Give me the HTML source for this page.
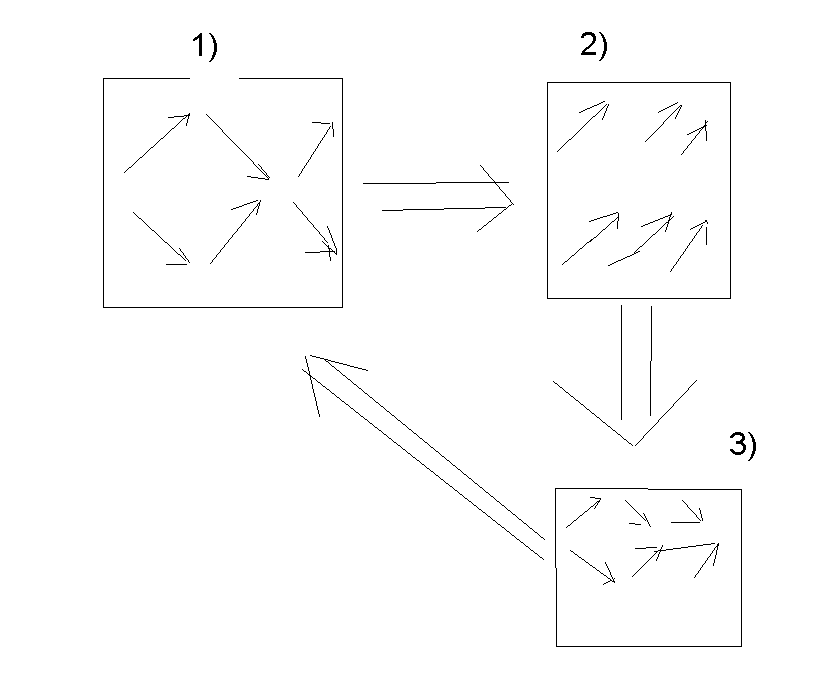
<!DOCTYPE html>
<html><head><meta charset="utf-8"><style>
html,body{margin:0;padding:0;background:#fff;}
body{width:840px;height:673px;overflow:hidden;}
svg{display:block;}
text{font-family:"Liberation Sans",sans-serif;font-size:32px;fill:#000;}
</style></head><body>
<svg width="840" height="673" viewBox="0 0 840 673">
<rect width="840" height="673" fill="#fff"/>
<g fill="#000" shape-rendering="crispEdges">
<path d="M103 78h87v1h-87zM239 78h104v1h-104zM103 79h1v1h-1zM342 79h1v1h-1zM103 80h1v1h-1zM342 80h1v1h-1zM103 81h1v1h-1zM342 81h1v1h-1zM103 82h1v1h-1zM342 82h1v1h-1zM547 82h184v1h-184zM103 83h1v1h-1zM342 83h1v1h-1zM547 83h1v1h-1zM730 83h1v1h-1zM103 84h1v1h-1zM342 84h1v1h-1zM547 84h1v1h-1zM730 84h1v1h-1zM103 85h1v1h-1zM342 85h1v1h-1zM547 85h1v1h-1zM730 85h1v1h-1zM103 86h1v1h-1zM342 86h1v1h-1zM547 86h1v1h-1zM730 86h1v1h-1zM103 87h1v1h-1zM342 87h1v1h-1zM547 87h1v1h-1zM730 87h1v1h-1zM103 88h1v1h-1zM342 88h1v1h-1zM547 88h1v1h-1zM730 88h1v1h-1zM103 89h1v1h-1zM342 89h1v1h-1zM547 89h1v1h-1zM730 89h1v1h-1zM103 90h1v1h-1zM342 90h1v1h-1zM547 90h1v1h-1zM730 90h1v1h-1zM103 91h1v1h-1zM342 91h1v1h-1zM547 91h1v1h-1zM730 91h1v1h-1zM103 92h1v1h-1zM342 92h1v1h-1zM547 92h1v1h-1zM730 92h1v1h-1zM103 93h1v1h-1zM342 93h1v1h-1zM547 93h1v1h-1zM730 93h1v1h-1zM103 94h1v1h-1zM342 94h1v1h-1zM547 94h1v1h-1zM730 94h1v1h-1zM103 95h1v1h-1zM342 95h1v1h-1zM547 95h1v1h-1zM730 95h1v1h-1zM103 96h1v1h-1zM342 96h1v1h-1zM547 96h1v1h-1zM730 96h1v1h-1zM103 97h1v1h-1zM342 97h1v1h-1zM547 97h1v1h-1zM730 97h1v1h-1zM103 98h1v1h-1zM342 98h1v1h-1zM547 98h1v1h-1zM730 98h1v1h-1zM103 99h1v1h-1zM342 99h1v1h-1zM547 99h1v1h-1zM730 99h1v1h-1zM103 100h1v1h-1zM342 100h1v1h-1zM547 100h1v1h-1zM730 100h1v1h-1zM103 101h1v1h-1zM342 101h1v1h-1zM547 101h1v1h-1zM603 101h2v1h-2zM730 101h1v1h-1zM103 102h1v1h-1zM342 102h1v1h-1zM547 102h1v1h-1zM601 102h2v1h-2zM677 102h1v1h-1zM730 102h1v1h-1zM103 103h1v1h-1zM342 103h1v1h-1zM547 103h1v1h-1zM599 103h2v1h-2zM675 103h2v1h-2zM730 103h1v1h-1zM103 104h1v1h-1zM342 104h1v1h-1zM547 104h1v1h-1zM597 104h2v1h-2zM606 104h1v1h-1zM608 104h1v1h-1zM673 104h2v1h-2zM730 104h1v1h-1zM103 105h1v1h-1zM342 105h1v1h-1zM547 105h1v1h-1zM594 105h3v1h-3zM605 105h1v1h-1zM608 105h1v1h-1zM671 105h2v1h-2zM680 105h2v1h-2zM730 105h1v1h-1zM103 106h1v1h-1zM342 106h1v1h-1zM547 106h1v1h-1zM592 106h2v1h-2zM604 106h1v1h-1zM607 106h1v1h-1zM669 106h2v1h-2zM679 106h1v1h-1zM681 106h1v1h-1zM730 106h1v1h-1zM103 107h1v1h-1zM342 107h1v1h-1zM547 107h1v1h-1zM590 107h2v1h-2zM603 107h1v1h-1zM607 107h1v1h-1zM667 107h2v1h-2zM678 107h1v1h-1zM680 107h1v1h-1zM730 107h1v1h-1zM103 108h1v1h-1zM342 108h1v1h-1zM547 108h1v1h-1zM587 108h3v1h-3zM602 108h1v1h-1zM606 108h1v1h-1zM665 108h2v1h-2zM677 108h1v1h-1zM680 108h1v1h-1zM730 108h1v1h-1zM103 109h1v1h-1zM342 109h1v1h-1zM547 109h1v1h-1zM585 109h2v1h-2zM601 109h1v1h-1zM606 109h1v1h-1zM663 109h2v1h-2zM676 109h1v1h-1zM679 109h1v1h-1zM730 109h1v1h-1zM103 110h1v1h-1zM342 110h1v1h-1zM547 110h1v1h-1zM583 110h2v1h-2zM600 110h1v1h-1zM606 110h1v1h-1zM661 110h2v1h-2zM675 110h1v1h-1zM679 110h1v1h-1zM730 110h1v1h-1zM103 111h1v1h-1zM342 111h1v1h-1zM547 111h1v1h-1zM581 111h2v1h-2zM599 111h1v1h-1zM605 111h1v1h-1zM659 111h2v1h-2zM674 111h1v1h-1zM678 111h1v1h-1zM730 111h1v1h-1zM103 112h1v1h-1zM342 112h1v1h-1zM547 112h1v1h-1zM579 112h2v1h-2zM598 112h1v1h-1zM605 112h1v1h-1zM658 112h1v1h-1zM673 112h1v1h-1zM678 112h1v1h-1zM730 112h1v1h-1zM103 113h1v1h-1zM189 113h1v1h-1zM342 113h1v1h-1zM547 113h1v1h-1zM597 113h1v1h-1zM604 113h1v1h-1zM672 113h1v1h-1zM677 113h1v1h-1zM730 113h1v1h-1zM103 114h1v1h-1zM188 114h2v1h-2zM206 114h1v1h-1zM342 114h1v1h-1zM547 114h1v1h-1zM596 114h1v1h-1zM604 114h1v1h-1zM671 114h1v1h-1zM677 114h1v1h-1zM730 114h1v1h-1zM103 115h1v1h-1zM184 115h6v1h-6zM207 115h1v1h-1zM342 115h1v1h-1zM547 115h1v1h-1zM595 115h1v1h-1zM604 115h1v1h-1zM670 115h1v1h-1zM676 115h1v1h-1zM730 115h1v1h-1zM103 116h1v1h-1zM174 116h10v1h-10zM186 116h1v1h-1zM188 116h1v1h-1zM208 116h1v1h-1zM342 116h1v1h-1zM547 116h1v1h-1zM593 116h2v1h-2zM603 116h1v1h-1zM669 116h1v1h-1zM676 116h1v1h-1zM730 116h1v1h-1zM103 117h1v1h-1zM168 117h6v1h-6zM185 117h1v1h-1zM188 117h1v1h-1zM209 117h1v1h-1zM342 117h1v1h-1zM547 117h1v1h-1zM592 117h1v1h-1zM603 117h1v1h-1zM668 117h1v1h-1zM675 117h1v1h-1zM730 117h1v1h-1zM103 118h1v1h-1zM183 118h2v1h-2zM188 118h1v1h-1zM210 118h1v1h-1zM342 118h1v1h-1zM547 118h1v1h-1zM591 118h1v1h-1zM602 118h1v1h-1zM667 118h1v1h-1zM675 118h1v1h-1zM730 118h1v1h-1zM103 119h1v1h-1zM182 119h1v1h-1zM187 119h1v1h-1zM211 119h1v1h-1zM342 119h1v1h-1zM547 119h1v1h-1zM590 119h1v1h-1zM602 119h1v1h-1zM666 119h1v1h-1zM730 119h1v1h-1zM103 120h1v1h-1zM181 120h1v1h-1zM187 120h1v1h-1zM212 120h1v1h-1zM342 120h1v1h-1zM547 120h1v1h-1zM589 120h1v1h-1zM665 120h1v1h-1zM705 120h1v1h-1zM730 120h1v1h-1zM103 121h1v1h-1zM180 121h1v1h-1zM187 121h1v1h-1zM213 121h1v1h-1zM342 121h1v1h-1zM547 121h1v1h-1zM588 121h1v1h-1zM664 121h1v1h-1zM705 121h1v1h-1zM707 121h1v1h-1zM730 121h1v1h-1zM103 122h1v1h-1zM179 122h1v1h-1zM187 122h1v1h-1zM214 122h1v1h-1zM312 122h9v1h-9zM332 122h1v1h-1zM342 122h1v1h-1zM547 122h1v1h-1zM587 122h1v1h-1zM663 122h1v1h-1zM705 122h2v1h-2zM730 122h1v1h-1zM103 123h1v1h-1zM178 123h1v1h-1zM186 123h1v1h-1zM215 123h1v1h-1zM321 123h9v1h-9zM332 123h1v1h-1zM342 123h1v1h-1zM547 123h1v1h-1zM586 123h1v1h-1zM663 123h1v1h-1zM705 123h1v1h-1zM730 123h1v1h-1zM103 124h1v1h-1zM177 124h1v1h-1zM186 124h1v1h-1zM216 124h1v1h-1zM332 124h1v1h-1zM342 124h1v1h-1zM547 124h1v1h-1zM585 124h1v1h-1zM662 124h1v1h-1zM705 124h1v1h-1zM730 124h1v1h-1zM103 125h1v1h-1zM176 125h1v1h-1zM186 125h1v1h-1zM217 125h1v1h-1zM332 125h1v1h-1zM342 125h1v1h-1zM547 125h1v1h-1zM584 125h1v1h-1zM661 125h1v1h-1zM704 125h3v1h-3zM730 125h1v1h-1zM103 126h1v1h-1zM175 126h1v1h-1zM218 126h1v1h-1zM330 126h1v1h-1zM332 126h1v1h-1zM342 126h1v1h-1zM547 126h1v1h-1zM583 126h1v1h-1zM660 126h1v1h-1zM703 126h3v1h-3zM730 126h1v1h-1zM103 127h1v1h-1zM174 127h1v1h-1zM219 127h1v1h-1zM329 127h1v1h-1zM332 127h1v1h-1zM342 127h1v1h-1zM547 127h1v1h-1zM582 127h1v1h-1zM659 127h1v1h-1zM701 127h3v1h-3zM705 127h1v1h-1zM730 127h1v1h-1zM103 128h1v1h-1zM172 128h2v1h-2zM220 128h1v1h-1zM329 128h1v1h-1zM332 128h1v1h-1zM342 128h1v1h-1zM547 128h1v1h-1zM581 128h1v1h-1zM658 128h1v1h-1zM699 128h2v1h-2zM702 128h1v1h-1zM705 128h1v1h-1zM730 128h1v1h-1zM103 129h1v1h-1zM171 129h1v1h-1zM221 129h1v1h-1zM328 129h1v1h-1zM333 129h1v1h-1zM342 129h1v1h-1zM547 129h1v1h-1zM580 129h1v1h-1zM657 129h1v1h-1zM697 129h2v1h-2zM701 129h1v1h-1zM705 129h1v1h-1zM730 129h1v1h-1zM103 130h1v1h-1zM170 130h1v1h-1zM222 130h1v1h-1zM327 130h1v1h-1zM333 130h1v1h-1zM342 130h1v1h-1zM547 130h1v1h-1zM579 130h1v1h-1zM656 130h1v1h-1zM695 130h2v1h-2zM700 130h1v1h-1zM705 130h1v1h-1zM730 130h1v1h-1zM103 131h1v1h-1zM169 131h1v1h-1zM222 131h1v1h-1zM327 131h1v1h-1zM333 131h1v1h-1zM342 131h1v1h-1zM547 131h1v1h-1zM578 131h1v1h-1zM655 131h1v1h-1zM693 131h2v1h-2zM699 131h1v1h-1zM706 131h1v1h-1zM730 131h1v1h-1zM103 132h1v1h-1zM168 132h1v1h-1zM223 132h1v1h-1zM326 132h1v1h-1zM333 132h1v1h-1zM342 132h1v1h-1zM547 132h1v1h-1zM577 132h1v1h-1zM654 132h1v1h-1zM691 132h2v1h-2zM699 132h1v1h-1zM706 132h1v1h-1zM730 132h1v1h-1zM103 133h1v1h-1zM167 133h1v1h-1zM224 133h1v1h-1zM326 133h1v1h-1zM333 133h1v1h-1zM342 133h1v1h-1zM547 133h1v1h-1zM576 133h1v1h-1zM653 133h1v1h-1zM689 133h2v1h-2zM698 133h1v1h-1zM706 133h1v1h-1zM730 133h1v1h-1zM103 134h1v1h-1zM166 134h1v1h-1zM225 134h1v1h-1zM325 134h1v1h-1zM333 134h1v1h-1zM342 134h1v1h-1zM547 134h1v1h-1zM575 134h1v1h-1zM652 134h1v1h-1zM687 134h2v1h-2zM697 134h1v1h-1zM706 134h1v1h-1zM730 134h1v1h-1zM103 135h1v1h-1zM165 135h1v1h-1zM226 135h1v1h-1zM324 135h1v1h-1zM333 135h1v1h-1zM342 135h1v1h-1zM547 135h1v1h-1zM574 135h1v1h-1zM651 135h1v1h-1zM696 135h1v1h-1zM706 135h1v1h-1zM730 135h1v1h-1zM103 136h1v1h-1zM164 136h1v1h-1zM227 136h1v1h-1zM324 136h1v1h-1zM333 136h1v1h-1zM342 136h1v1h-1zM547 136h1v1h-1zM573 136h1v1h-1zM650 136h1v1h-1zM695 136h1v1h-1zM706 136h1v1h-1zM730 136h1v1h-1zM103 137h1v1h-1zM163 137h1v1h-1zM228 137h1v1h-1zM323 137h1v1h-1zM342 137h1v1h-1zM547 137h1v1h-1zM572 137h1v1h-1zM649 137h1v1h-1zM695 137h1v1h-1zM706 137h1v1h-1zM730 137h1v1h-1zM103 138h1v1h-1zM161 138h2v1h-2zM229 138h1v1h-1zM322 138h1v1h-1zM342 138h1v1h-1zM547 138h1v1h-1zM571 138h1v1h-1zM648 138h1v1h-1zM694 138h1v1h-1zM706 138h1v1h-1zM730 138h1v1h-1zM103 139h1v1h-1zM160 139h1v1h-1zM230 139h1v1h-1zM322 139h1v1h-1zM342 139h1v1h-1zM547 139h1v1h-1zM569 139h2v1h-2zM647 139h1v1h-1zM693 139h1v1h-1zM706 139h1v1h-1zM730 139h1v1h-1zM103 140h1v1h-1zM159 140h1v1h-1zM231 140h1v1h-1zM321 140h1v1h-1zM342 140h1v1h-1zM547 140h1v1h-1zM568 140h1v1h-1zM646 140h1v1h-1zM692 140h1v1h-1zM706 140h1v1h-1zM730 140h1v1h-1zM103 141h1v1h-1zM158 141h1v1h-1zM232 141h1v1h-1zM320 141h1v1h-1zM342 141h1v1h-1zM547 141h1v1h-1zM567 141h1v1h-1zM645 141h1v1h-1zM691 141h1v1h-1zM730 141h1v1h-1zM103 142h1v1h-1zM157 142h1v1h-1zM233 142h1v1h-1zM320 142h1v1h-1zM342 142h1v1h-1zM547 142h1v1h-1zM566 142h1v1h-1zM691 142h1v1h-1zM730 142h1v1h-1zM103 143h1v1h-1zM156 143h1v1h-1zM234 143h1v1h-1zM319 143h1v1h-1zM342 143h1v1h-1zM547 143h1v1h-1zM565 143h1v1h-1zM690 143h1v1h-1zM730 143h1v1h-1zM103 144h1v1h-1zM155 144h1v1h-1zM235 144h1v1h-1zM318 144h1v1h-1zM342 144h1v1h-1zM547 144h1v1h-1zM564 144h1v1h-1zM689 144h1v1h-1zM730 144h1v1h-1zM103 145h1v1h-1zM154 145h1v1h-1zM236 145h1v1h-1zM318 145h1v1h-1zM342 145h1v1h-1zM547 145h1v1h-1zM563 145h1v1h-1zM688 145h1v1h-1zM730 145h1v1h-1zM103 146h1v1h-1zM153 146h1v1h-1zM237 146h1v1h-1zM317 146h1v1h-1zM342 146h1v1h-1zM547 146h1v1h-1zM562 146h1v1h-1zM687 146h1v1h-1zM730 146h1v1h-1zM103 147h1v1h-1zM151 147h2v1h-2zM238 147h1v1h-1zM317 147h1v1h-1zM342 147h1v1h-1zM547 147h1v1h-1zM561 147h1v1h-1zM687 147h1v1h-1zM730 147h1v1h-1zM103 148h1v1h-1zM150 148h1v1h-1zM239 148h1v1h-1zM316 148h1v1h-1zM342 148h1v1h-1zM547 148h1v1h-1zM560 148h1v1h-1zM686 148h1v1h-1zM730 148h1v1h-1zM103 149h1v1h-1zM149 149h1v1h-1zM240 149h1v1h-1zM315 149h1v1h-1zM342 149h1v1h-1zM547 149h1v1h-1zM559 149h1v1h-1zM685 149h1v1h-1zM730 149h1v1h-1zM103 150h1v1h-1zM148 150h1v1h-1zM241 150h1v1h-1zM315 150h1v1h-1zM342 150h1v1h-1zM547 150h1v1h-1zM558 150h1v1h-1zM684 150h1v1h-1zM730 150h1v1h-1zM103 151h1v1h-1zM147 151h1v1h-1zM242 151h1v1h-1zM314 151h1v1h-1zM342 151h1v1h-1zM547 151h1v1h-1zM557 151h1v1h-1zM683 151h1v1h-1zM730 151h1v1h-1zM103 152h1v1h-1zM146 152h1v1h-1zM243 152h1v1h-1zM313 152h1v1h-1zM342 152h1v1h-1zM547 152h1v1h-1zM683 152h1v1h-1zM730 152h1v1h-1zM103 153h1v1h-1zM145 153h1v1h-1zM244 153h1v1h-1zM313 153h1v1h-1zM342 153h1v1h-1zM547 153h1v1h-1zM682 153h1v1h-1zM730 153h1v1h-1zM103 154h1v1h-1zM144 154h1v1h-1zM245 154h1v1h-1zM312 154h1v1h-1zM342 154h1v1h-1zM547 154h1v1h-1zM681 154h1v1h-1zM730 154h1v1h-1zM103 155h1v1h-1zM143 155h1v1h-1zM246 155h1v1h-1zM311 155h1v1h-1zM342 155h1v1h-1zM547 155h1v1h-1zM730 155h1v1h-1zM103 156h1v1h-1zM142 156h1v1h-1zM247 156h1v1h-1zM311 156h1v1h-1zM342 156h1v1h-1zM547 156h1v1h-1zM730 156h1v1h-1zM103 157h1v1h-1zM140 157h2v1h-2zM248 157h1v1h-1zM310 157h1v1h-1zM342 157h1v1h-1zM547 157h1v1h-1zM730 157h1v1h-1zM103 158h1v1h-1zM139 158h1v1h-1zM249 158h1v1h-1zM310 158h1v1h-1zM342 158h1v1h-1zM547 158h1v1h-1zM730 158h1v1h-1zM103 159h1v1h-1zM138 159h1v1h-1zM250 159h1v1h-1zM309 159h1v1h-1zM342 159h1v1h-1zM547 159h1v1h-1zM730 159h1v1h-1zM103 160h1v1h-1zM137 160h1v1h-1zM251 160h1v1h-1zM308 160h1v1h-1zM342 160h1v1h-1zM547 160h1v1h-1zM730 160h1v1h-1zM103 161h1v1h-1zM136 161h1v1h-1zM252 161h1v1h-1zM308 161h1v1h-1zM342 161h1v1h-1zM547 161h1v1h-1zM730 161h1v1h-1zM103 162h1v1h-1zM135 162h1v1h-1zM253 162h1v1h-1zM307 162h1v1h-1zM342 162h1v1h-1zM547 162h1v1h-1zM730 162h1v1h-1zM103 163h1v1h-1zM134 163h1v1h-1zM253 163h1v1h-1zM306 163h1v1h-1zM342 163h1v1h-1zM547 163h1v1h-1zM730 163h1v1h-1zM103 164h1v1h-1zM133 164h1v1h-1zM254 164h1v1h-1zM258 164h1v1h-1zM306 164h1v1h-1zM342 164h1v1h-1zM547 164h1v1h-1zM730 164h1v1h-1zM103 165h1v1h-1zM132 165h1v1h-1zM255 165h1v1h-1zM259 165h1v1h-1zM305 165h1v1h-1zM342 165h1v1h-1zM480 165h1v1h-1zM547 165h1v1h-1zM730 165h1v1h-1zM103 166h1v1h-1zM131 166h1v1h-1zM256 166h1v1h-1zM260 166h1v1h-1zM304 166h1v1h-1zM342 166h1v1h-1zM481 166h1v1h-1zM547 166h1v1h-1zM730 166h1v1h-1zM103 167h1v1h-1zM129 167h2v1h-2zM257 167h1v1h-1zM261 167h1v1h-1zM304 167h1v1h-1zM342 167h1v1h-1zM482 167h1v1h-1zM547 167h1v1h-1zM730 167h1v1h-1zM103 168h1v1h-1zM128 168h1v1h-1zM258 168h1v1h-1zM261 168h1v1h-1zM303 168h1v1h-1zM342 168h1v1h-1zM483 168h1v1h-1zM547 168h1v1h-1zM730 168h1v1h-1zM103 169h1v1h-1zM127 169h1v1h-1zM259 169h1v1h-1zM262 169h1v1h-1zM302 169h1v1h-1zM342 169h1v1h-1zM483 169h1v1h-1zM547 169h1v1h-1zM730 169h1v1h-1zM103 170h1v1h-1zM126 170h1v1h-1zM260 170h1v1h-1zM263 170h1v1h-1zM302 170h1v1h-1zM342 170h1v1h-1zM484 170h1v1h-1zM547 170h1v1h-1zM730 170h1v1h-1zM103 171h1v1h-1zM125 171h1v1h-1zM261 171h1v1h-1zM264 171h1v1h-1zM301 171h1v1h-1zM342 171h1v1h-1zM485 171h1v1h-1zM547 171h1v1h-1zM730 171h1v1h-1zM103 172h1v1h-1zM124 172h1v1h-1zM262 172h1v1h-1zM265 172h1v1h-1zM301 172h1v1h-1zM342 172h1v1h-1zM486 172h1v1h-1zM547 172h1v1h-1zM730 172h1v1h-1zM103 173h1v1h-1zM263 173h1v1h-1zM266 173h1v1h-1zM300 173h1v1h-1zM342 173h1v1h-1zM487 173h1v1h-1zM547 173h1v1h-1zM730 173h1v1h-1zM103 174h1v1h-1zM264 174h1v1h-1zM266 174h1v1h-1zM299 174h1v1h-1zM342 174h1v1h-1zM488 174h1v1h-1zM547 174h1v1h-1zM730 174h1v1h-1zM103 175h1v1h-1zM265 175h1v1h-1zM267 175h1v1h-1zM299 175h1v1h-1zM342 175h1v1h-1zM488 175h1v1h-1zM547 175h1v1h-1zM730 175h1v1h-1zM103 176h1v1h-1zM247 176h4v1h-4zM266 176h1v1h-1zM268 176h1v1h-1zM298 176h1v1h-1zM342 176h1v1h-1zM489 176h1v1h-1zM547 176h1v1h-1zM730 176h1v1h-1zM103 177h1v1h-1zM251 177h7v1h-7zM267 177h1v1h-1zM269 177h1v1h-1zM342 177h1v1h-1zM490 177h1v1h-1zM547 177h1v1h-1zM730 177h1v1h-1zM103 178h1v1h-1zM258 178h7v1h-7zM268 178h1v1h-1zM342 178h1v1h-1zM491 178h1v1h-1zM547 178h1v1h-1zM730 178h1v1h-1zM103 179h1v1h-1zM265 179h4v1h-4zM342 179h1v1h-1zM492 179h1v1h-1zM547 179h1v1h-1zM730 179h1v1h-1zM103 180h1v1h-1zM342 180h1v1h-1zM493 180h1v1h-1zM547 180h1v1h-1zM730 180h1v1h-1zM103 181h1v1h-1zM342 181h1v1h-1zM494 181h1v1h-1zM547 181h1v1h-1zM730 181h1v1h-1zM103 182h1v1h-1zM342 182h1v1h-1zM436 182h73v1h-73zM547 182h1v1h-1zM730 182h1v1h-1zM103 183h1v1h-1zM342 183h1v1h-1zM363 183h73v1h-73zM495 183h1v1h-1zM547 183h1v1h-1zM730 183h1v1h-1zM103 184h1v1h-1zM342 184h1v1h-1zM496 184h1v1h-1zM547 184h1v1h-1zM730 184h1v1h-1zM103 185h1v1h-1zM342 185h1v1h-1zM497 185h1v1h-1zM547 185h1v1h-1zM730 185h1v1h-1zM103 186h1v1h-1zM342 186h1v1h-1zM498 186h1v1h-1zM547 186h1v1h-1zM730 186h1v1h-1zM103 187h1v1h-1zM342 187h1v1h-1zM499 187h1v1h-1zM547 187h1v1h-1zM730 187h1v1h-1zM103 188h1v1h-1zM342 188h1v1h-1zM499 188h1v1h-1zM547 188h1v1h-1zM730 188h1v1h-1zM103 189h1v1h-1zM342 189h1v1h-1zM500 189h1v1h-1zM547 189h1v1h-1zM730 189h1v1h-1zM103 190h1v1h-1zM342 190h1v1h-1zM501 190h1v1h-1zM547 190h1v1h-1zM730 190h1v1h-1zM103 191h1v1h-1zM342 191h1v1h-1zM502 191h1v1h-1zM547 191h1v1h-1zM730 191h1v1h-1zM103 192h1v1h-1zM342 192h1v1h-1zM503 192h1v1h-1zM547 192h1v1h-1zM730 192h1v1h-1zM103 193h1v1h-1zM342 193h1v1h-1zM504 193h1v1h-1zM547 193h1v1h-1zM730 193h1v1h-1zM103 194h1v1h-1zM342 194h1v1h-1zM505 194h1v1h-1zM547 194h1v1h-1zM730 194h1v1h-1zM103 195h1v1h-1zM342 195h1v1h-1zM505 195h1v1h-1zM547 195h1v1h-1zM730 195h1v1h-1zM103 196h1v1h-1zM342 196h1v1h-1zM506 196h1v1h-1zM547 196h1v1h-1zM730 196h1v1h-1zM103 197h1v1h-1zM342 197h1v1h-1zM507 197h1v1h-1zM547 197h1v1h-1zM730 197h1v1h-1zM103 198h1v1h-1zM342 198h1v1h-1zM508 198h1v1h-1zM547 198h1v1h-1zM730 198h1v1h-1zM103 199h1v1h-1zM342 199h1v1h-1zM509 199h1v1h-1zM547 199h1v1h-1zM730 199h1v1h-1zM103 200h1v1h-1zM256 200h2v1h-2zM260 200h1v1h-1zM342 200h1v1h-1zM510 200h1v1h-1zM547 200h1v1h-1zM730 200h1v1h-1zM103 201h1v1h-1zM253 201h3v1h-3zM260 201h1v1h-1zM342 201h1v1h-1zM510 201h1v1h-1zM547 201h1v1h-1zM730 201h1v1h-1zM103 202h1v1h-1zM250 202h3v1h-3zM259 202h1v1h-1zM293 202h1v1h-1zM342 202h1v1h-1zM511 202h1v1h-1zM547 202h1v1h-1zM730 202h1v1h-1zM103 203h1v1h-1zM247 203h3v1h-3zM258 203h2v1h-2zM294 203h1v1h-1zM342 203h1v1h-1zM512 203h1v1h-1zM547 203h1v1h-1zM730 203h1v1h-1zM103 204h1v1h-1zM244 204h3v1h-3zM257 204h1v1h-1zM259 204h1v1h-1zM295 204h1v1h-1zM342 204h1v1h-1zM511 204h1v1h-1zM513 204h1v1h-1zM547 204h1v1h-1zM730 204h1v1h-1zM103 205h1v1h-1zM242 205h2v1h-2zM257 205h1v1h-1zM259 205h1v1h-1zM296 205h1v1h-1zM342 205h1v1h-1zM509 205h2v1h-2zM547 205h1v1h-1zM730 205h1v1h-1zM103 206h1v1h-1zM239 206h3v1h-3zM256 206h1v1h-1zM258 206h1v1h-1zM296 206h1v1h-1zM342 206h1v1h-1zM508 206h1v1h-1zM547 206h1v1h-1zM730 206h1v1h-1zM103 207h1v1h-1zM236 207h3v1h-3zM255 207h1v1h-1zM258 207h1v1h-1zM297 207h1v1h-1zM342 207h1v1h-1zM485 207h21v1h-21zM507 207h1v1h-1zM547 207h1v1h-1zM730 207h1v1h-1zM103 208h1v1h-1zM233 208h3v1h-3zM254 208h1v1h-1zM258 208h1v1h-1zM298 208h1v1h-1zM342 208h1v1h-1zM444 208h41v1h-41zM506 208h1v1h-1zM547 208h1v1h-1zM730 208h1v1h-1zM103 209h1v1h-1zM231 209h2v1h-2zM253 209h1v1h-1zM257 209h1v1h-1zM299 209h1v1h-1zM342 209h1v1h-1zM403 209h41v1h-41zM504 209h2v1h-2zM547 209h1v1h-1zM730 209h1v1h-1zM103 210h1v1h-1zM253 210h1v1h-1zM257 210h1v1h-1zM300 210h1v1h-1zM342 210h1v1h-1zM382 210h21v1h-21zM503 210h1v1h-1zM547 210h1v1h-1zM730 210h1v1h-1zM103 211h1v1h-1zM252 211h1v1h-1zM257 211h1v1h-1zM301 211h1v1h-1zM342 211h1v1h-1zM502 211h1v1h-1zM547 211h1v1h-1zM730 211h1v1h-1zM103 212h1v1h-1zM133 212h1v1h-1zM251 212h1v1h-1zM257 212h1v1h-1zM302 212h1v1h-1zM342 212h1v1h-1zM501 212h1v1h-1zM547 212h1v1h-1zM616 212h2v1h-2zM671 212h1v1h-1zM730 212h1v1h-1zM103 213h1v1h-1zM134 213h1v1h-1zM250 213h1v1h-1zM256 213h1v1h-1zM302 213h1v1h-1zM342 213h1v1h-1zM499 213h2v1h-2zM547 213h1v1h-1zM613 213h3v1h-3zM618 213h1v1h-1zM671 213h1v1h-1zM730 213h1v1h-1zM103 214h1v1h-1zM135 214h1v1h-1zM249 214h1v1h-1zM256 214h1v1h-1zM303 214h1v1h-1zM342 214h1v1h-1zM498 214h1v1h-1zM547 214h1v1h-1zM610 214h3v1h-3zM618 214h1v1h-1zM670 214h2v1h-2zM730 214h1v1h-1zM103 215h1v1h-1zM136 215h1v1h-1zM249 215h1v1h-1zM304 215h1v1h-1zM342 215h1v1h-1zM497 215h1v1h-1zM547 215h1v1h-1zM607 215h3v1h-3zM618 215h1v1h-1zM668 215h3v1h-3zM730 215h1v1h-1zM103 216h1v1h-1zM137 216h1v1h-1zM248 216h1v1h-1zM305 216h1v1h-1zM342 216h1v1h-1zM496 216h1v1h-1zM547 216h1v1h-1zM603 216h4v1h-4zM618 216h1v1h-1zM665 216h3v1h-3zM670 216h1v1h-1zM673 216h1v1h-1zM730 216h1v1h-1zM103 217h1v1h-1zM138 217h1v1h-1zM247 217h1v1h-1zM306 217h1v1h-1zM342 217h1v1h-1zM494 217h2v1h-2zM547 217h1v1h-1zM600 217h3v1h-3zM617 217h2v1h-2zM663 217h2v1h-2zM669 217h1v1h-1zM672 217h1v1h-1zM730 217h1v1h-1zM103 218h1v1h-1zM139 218h2v1h-2zM246 218h1v1h-1zM307 218h1v1h-1zM342 218h1v1h-1zM493 218h1v1h-1zM547 218h1v1h-1zM597 218h3v1h-3zM616 218h1v1h-1zM618 218h1v1h-1zM660 218h3v1h-3zM669 218h1v1h-1zM671 218h1v1h-1zM730 218h1v1h-1zM103 219h1v1h-1zM141 219h1v1h-1zM245 219h1v1h-1zM307 219h1v1h-1zM342 219h1v1h-1zM492 219h1v1h-1zM547 219h1v1h-1zM594 219h3v1h-3zM615 219h1v1h-1zM618 219h1v1h-1zM658 219h2v1h-2zM669 219h2v1h-2zM730 219h1v1h-1zM103 220h1v1h-1zM142 220h1v1h-1zM245 220h1v1h-1zM308 220h1v1h-1zM342 220h1v1h-1zM491 220h1v1h-1zM547 220h1v1h-1zM591 220h3v1h-3zM614 220h1v1h-1zM618 220h1v1h-1zM655 220h3v1h-3zM668 220h2v1h-2zM705 220h2v1h-2zM730 220h1v1h-1zM103 221h1v1h-1zM143 221h1v1h-1zM244 221h1v1h-1zM309 221h1v1h-1zM342 221h1v1h-1zM489 221h2v1h-2zM547 221h1v1h-1zM589 221h2v1h-2zM612 221h2v1h-2zM617 221h1v1h-1zM653 221h2v1h-2zM668 221h1v1h-1zM705 221h2v1h-2zM730 221h1v1h-1zM103 222h1v1h-1zM144 222h1v1h-1zM243 222h1v1h-1zM310 222h1v1h-1zM342 222h1v1h-1zM488 222h1v1h-1zM547 222h1v1h-1zM611 222h1v1h-1zM617 222h1v1h-1zM650 222h3v1h-3zM666 222h3v1h-3zM703 222h2v1h-2zM707 222h1v1h-1zM730 222h1v1h-1zM103 223h1v1h-1zM145 223h1v1h-1zM242 223h1v1h-1zM311 223h1v1h-1zM342 223h1v1h-1zM487 223h1v1h-1zM547 223h1v1h-1zM610 223h1v1h-1zM617 223h1v1h-1zM648 223h2v1h-2zM665 223h1v1h-1zM668 223h1v1h-1zM701 223h2v1h-2zM707 223h1v1h-1zM730 223h1v1h-1zM103 224h1v1h-1zM146 224h1v1h-1zM241 224h1v1h-1zM312 224h1v1h-1zM342 224h1v1h-1zM486 224h1v1h-1zM547 224h1v1h-1zM609 224h1v1h-1zM617 224h1v1h-1zM645 224h3v1h-3zM664 224h1v1h-1zM667 224h1v1h-1zM699 224h2v1h-2zM730 224h1v1h-1zM103 225h1v1h-1zM147 225h1v1h-1zM241 225h1v1h-1zM313 225h1v1h-1zM342 225h1v1h-1zM484 225h2v1h-2zM547 225h1v1h-1zM608 225h1v1h-1zM617 225h1v1h-1zM643 225h2v1h-2zM663 225h1v1h-1zM667 225h1v1h-1zM697 225h2v1h-2zM702 225h1v1h-1zM730 225h1v1h-1zM103 226h1v1h-1zM148 226h1v1h-1zM240 226h1v1h-1zM313 226h1v1h-1zM327 226h1v1h-1zM342 226h1v1h-1zM483 226h1v1h-1zM547 226h1v1h-1zM607 226h1v1h-1zM617 226h1v1h-1zM641 226h2v1h-2zM662 226h1v1h-1zM667 226h1v1h-1zM695 226h2v1h-2zM701 226h1v1h-1zM730 226h1v1h-1zM103 227h1v1h-1zM149 227h1v1h-1zM239 227h1v1h-1zM314 227h1v1h-1zM327 227h1v1h-1zM342 227h1v1h-1zM482 227h1v1h-1zM547 227h1v1h-1zM606 227h1v1h-1zM617 227h1v1h-1zM661 227h1v1h-1zM666 227h1v1h-1zM693 227h2v1h-2zM701 227h1v1h-1zM706 227h1v1h-1zM730 227h1v1h-1zM103 228h1v1h-1zM150 228h1v1h-1zM238 228h1v1h-1zM315 228h1v1h-1zM328 228h1v1h-1zM342 228h1v1h-1zM481 228h1v1h-1zM547 228h1v1h-1zM605 228h1v1h-1zM617 228h1v1h-1zM660 228h1v1h-1zM666 228h1v1h-1zM691 228h2v1h-2zM700 228h1v1h-1zM706 228h1v1h-1zM730 228h1v1h-1zM103 229h1v1h-1zM151 229h1v1h-1zM237 229h1v1h-1zM316 229h1v1h-1zM328 229h1v1h-1zM342 229h1v1h-1zM479 229h2v1h-2zM547 229h1v1h-1zM603 229h2v1h-2zM659 229h1v1h-1zM666 229h1v1h-1zM690 229h1v1h-1zM699 229h1v1h-1zM706 229h1v1h-1zM730 229h1v1h-1zM103 230h1v1h-1zM152 230h2v1h-2zM237 230h1v1h-1zM317 230h1v1h-1zM329 230h1v1h-1zM342 230h1v1h-1zM478 230h1v1h-1zM547 230h1v1h-1zM602 230h1v1h-1zM658 230h1v1h-1zM665 230h1v1h-1zM699 230h1v1h-1zM706 230h1v1h-1zM730 230h1v1h-1zM103 231h1v1h-1zM154 231h1v1h-1zM236 231h1v1h-1zM318 231h1v1h-1zM329 231h1v1h-1zM342 231h1v1h-1zM477 231h1v1h-1zM547 231h1v1h-1zM601 231h1v1h-1zM657 231h1v1h-1zM665 231h1v1h-1zM698 231h1v1h-1zM706 231h1v1h-1zM730 231h1v1h-1zM103 232h1v1h-1zM155 232h1v1h-1zM235 232h1v1h-1zM319 232h1v1h-1zM329 232h1v1h-1zM342 232h1v1h-1zM547 232h1v1h-1zM600 232h1v1h-1zM656 232h1v1h-1zM697 232h1v1h-1zM706 232h1v1h-1zM730 232h1v1h-1zM103 233h1v1h-1zM156 233h1v1h-1zM234 233h1v1h-1zM319 233h1v1h-1zM330 233h1v1h-1zM342 233h1v1h-1zM547 233h1v1h-1zM599 233h1v1h-1zM655 233h1v1h-1zM696 233h1v1h-1zM706 233h1v1h-1zM730 233h1v1h-1zM103 234h1v1h-1zM157 234h1v1h-1zM233 234h1v1h-1zM320 234h1v1h-1zM330 234h1v1h-1zM342 234h1v1h-1zM547 234h1v1h-1zM598 234h1v1h-1zM653 234h2v1h-2zM696 234h1v1h-1zM706 234h1v1h-1zM730 234h1v1h-1zM103 235h1v1h-1zM158 235h1v1h-1zM232 235h1v1h-1zM321 235h1v1h-1zM331 235h1v1h-1zM342 235h1v1h-1zM547 235h1v1h-1zM597 235h1v1h-1zM652 235h1v1h-1zM695 235h1v1h-1zM706 235h1v1h-1zM730 235h1v1h-1zM103 236h1v1h-1zM159 236h1v1h-1zM232 236h1v1h-1zM322 236h1v1h-1zM331 236h1v1h-1zM342 236h1v1h-1zM547 236h1v1h-1zM596 236h1v1h-1zM651 236h1v1h-1zM694 236h1v1h-1zM706 236h1v1h-1zM730 236h1v1h-1zM103 237h1v1h-1zM160 237h1v1h-1zM231 237h1v1h-1zM323 237h1v1h-1zM331 237h1v1h-1zM342 237h1v1h-1zM547 237h1v1h-1zM594 237h2v1h-2zM650 237h1v1h-1zM694 237h1v1h-1zM706 237h1v1h-1zM730 237h1v1h-1zM103 238h1v1h-1zM161 238h1v1h-1zM230 238h1v1h-1zM324 238h1v1h-1zM332 238h1v1h-1zM342 238h1v1h-1zM547 238h1v1h-1zM593 238h1v1h-1zM649 238h1v1h-1zM693 238h1v1h-1zM706 238h1v1h-1zM730 238h1v1h-1zM103 239h1v1h-1zM162 239h1v1h-1zM229 239h1v1h-1zM324 239h1v1h-1zM332 239h1v1h-1zM342 239h1v1h-1zM547 239h1v1h-1zM591 239h2v1h-2zM648 239h1v1h-1zM692 239h1v1h-1zM706 239h1v1h-1zM730 239h1v1h-1zM103 240h1v1h-1zM163 240h1v1h-1zM228 240h1v1h-1zM325 240h1v1h-1zM332 240h1v1h-1zM342 240h1v1h-1zM547 240h1v1h-1zM590 240h2v1h-2zM647 240h1v1h-1zM692 240h1v1h-1zM706 240h1v1h-1zM730 240h1v1h-1zM103 241h1v1h-1zM164 241h1v1h-1zM228 241h1v1h-1zM322 241h1v1h-1zM326 241h1v1h-1zM333 241h1v1h-1zM342 241h1v1h-1zM547 241h1v1h-1zM589 241h2v1h-2zM646 241h1v1h-1zM691 241h1v1h-1zM706 241h1v1h-1zM730 241h1v1h-1zM103 242h1v1h-1zM165 242h2v1h-2zM227 242h1v1h-1zM323 242h1v1h-1zM327 242h1v1h-1zM333 242h1v1h-1zM342 242h1v1h-1zM547 242h1v1h-1zM587 242h2v1h-2zM645 242h1v1h-1zM690 242h1v1h-1zM706 242h1v1h-1zM730 242h1v1h-1zM103 243h1v1h-1zM167 243h1v1h-1zM226 243h1v1h-1zM324 243h1v1h-1zM334 243h1v1h-1zM342 243h1v1h-1zM547 243h1v1h-1zM586 243h1v1h-1zM644 243h1v1h-1zM689 243h1v1h-1zM706 243h1v1h-1zM730 243h1v1h-1zM103 244h1v1h-1zM168 244h1v1h-1zM225 244h1v1h-1zM325 244h1v1h-1zM334 244h1v1h-1zM342 244h1v1h-1zM547 244h1v1h-1zM585 244h1v1h-1zM643 244h1v1h-1zM689 244h1v1h-1zM706 244h1v1h-1zM730 244h1v1h-1zM103 245h1v1h-1zM169 245h1v1h-1zM224 245h1v1h-1zM326 245h1v1h-1zM328 245h1v1h-1zM334 245h1v1h-1zM342 245h1v1h-1zM547 245h1v1h-1zM584 245h1v1h-1zM642 245h1v1h-1zM688 245h1v1h-1zM730 245h1v1h-1zM103 246h1v1h-1zM170 246h1v1h-1zM224 246h1v1h-1zM327 246h2v1h-2zM335 246h1v1h-1zM342 246h1v1h-1zM547 246h1v1h-1zM583 246h1v1h-1zM640 246h2v1h-2zM687 246h1v1h-1zM730 246h1v1h-1zM103 247h1v1h-1zM171 247h1v1h-1zM223 247h1v1h-1zM328 247h1v1h-1zM335 247h1v1h-1zM342 247h1v1h-1zM547 247h1v1h-1zM582 247h1v1h-1zM639 247h1v1h-1zM687 247h1v1h-1zM730 247h1v1h-1zM103 248h1v1h-1zM172 248h1v1h-1zM179 248h1v1h-1zM222 248h1v1h-1zM328 248h3v1h-3zM336 248h1v1h-1zM342 248h1v1h-1zM547 248h1v1h-1zM580 248h2v1h-2zM638 248h1v1h-1zM686 248h1v1h-1zM730 248h1v1h-1zM103 249h1v1h-1zM173 249h1v1h-1zM180 249h1v1h-1zM221 249h1v1h-1zM329 249h1v1h-1zM331 249h1v1h-1zM336 249h1v1h-1zM342 249h1v1h-1zM547 249h1v1h-1zM579 249h1v1h-1zM637 249h1v1h-1zM685 249h1v1h-1zM730 249h1v1h-1zM103 250h1v1h-1zM174 250h1v1h-1zM180 250h1v1h-1zM220 250h1v1h-1zM329 250h1v1h-1zM332 250h1v1h-1zM336 250h1v1h-1zM342 250h1v1h-1zM547 250h1v1h-1zM578 250h1v1h-1zM636 250h1v1h-1zM685 250h1v1h-1zM730 250h1v1h-1zM103 251h1v1h-1zM175 251h1v1h-1zM181 251h1v1h-1zM220 251h1v1h-1zM320 251h15v1h-15zM336 251h1v1h-1zM342 251h1v1h-1zM547 251h1v1h-1zM577 251h1v1h-1zM635 251h1v1h-1zM638 251h2v1h-2zM684 251h1v1h-1zM730 251h1v1h-1zM103 252h1v1h-1zM176 252h1v1h-1zM182 252h1v1h-1zM219 252h1v1h-1zM305 252h15v1h-15zM329 252h1v1h-1zM334 252h1v1h-1zM336 252h1v1h-1zM342 252h1v1h-1zM547 252h1v1h-1zM576 252h1v1h-1zM634 252h1v1h-1zM636 252h2v1h-2zM683 252h1v1h-1zM730 252h1v1h-1zM103 253h1v1h-1zM177 253h1v1h-1zM183 253h1v1h-1zM218 253h1v1h-1zM329 253h1v1h-1zM335 253h2v1h-2zM342 253h1v1h-1zM547 253h1v1h-1zM575 253h1v1h-1zM634 253h2v1h-2zM683 253h1v1h-1zM730 253h1v1h-1zM103 254h1v1h-1zM178 254h2v1h-2zM183 254h1v1h-1zM217 254h1v1h-1zM329 254h1v1h-1zM336 254h1v1h-1zM342 254h1v1h-1zM547 254h1v1h-1zM574 254h1v1h-1zM632 254h2v1h-2zM682 254h1v1h-1zM730 254h1v1h-1zM103 255h1v1h-1zM180 255h1v1h-1zM184 255h1v1h-1zM216 255h1v1h-1zM329 255h1v1h-1zM342 255h1v1h-1zM547 255h1v1h-1zM572 255h2v1h-2zM630 255h2v1h-2zM681 255h1v1h-1zM730 255h1v1h-1zM103 256h1v1h-1zM181 256h1v1h-1zM185 256h1v1h-1zM216 256h1v1h-1zM329 256h1v1h-1zM342 256h1v1h-1zM547 256h1v1h-1zM571 256h1v1h-1zM627 256h3v1h-3zM680 256h1v1h-1zM730 256h1v1h-1zM103 257h1v1h-1zM182 257h1v1h-1zM185 257h1v1h-1zM215 257h1v1h-1zM330 257h1v1h-1zM342 257h1v1h-1zM547 257h1v1h-1zM570 257h1v1h-1zM625 257h2v1h-2zM680 257h1v1h-1zM730 257h1v1h-1zM103 258h1v1h-1zM183 258h1v1h-1zM186 258h1v1h-1zM214 258h1v1h-1zM330 258h1v1h-1zM342 258h1v1h-1zM547 258h1v1h-1zM569 258h1v1h-1zM623 258h2v1h-2zM679 258h1v1h-1zM730 258h1v1h-1zM103 259h1v1h-1zM184 259h1v1h-1zM187 259h1v1h-1zM213 259h1v1h-1zM330 259h1v1h-1zM342 259h1v1h-1zM547 259h1v1h-1zM568 259h1v1h-1zM621 259h2v1h-2zM678 259h1v1h-1zM730 259h1v1h-1zM103 260h1v1h-1zM185 260h1v1h-1zM188 260h1v1h-1zM212 260h1v1h-1zM330 260h1v1h-1zM342 260h1v1h-1zM547 260h1v1h-1zM567 260h1v1h-1zM618 260h3v1h-3zM678 260h1v1h-1zM730 260h1v1h-1zM103 261h1v1h-1zM188 261h1v1h-1zM212 261h1v1h-1zM342 261h1v1h-1zM547 261h1v1h-1zM565 261h2v1h-2zM616 261h2v1h-2zM677 261h1v1h-1zM730 261h1v1h-1zM103 262h1v1h-1zM189 262h1v1h-1zM211 262h1v1h-1zM342 262h1v1h-1zM547 262h1v1h-1zM564 262h1v1h-1zM614 262h2v1h-2zM676 262h1v1h-1zM730 262h1v1h-1zM103 263h1v1h-1zM210 263h1v1h-1zM342 263h1v1h-1zM547 263h1v1h-1zM563 263h1v1h-1zM612 263h2v1h-2zM676 263h1v1h-1zM730 263h1v1h-1zM103 264h1v1h-1zM166 264h21v1h-21zM342 264h1v1h-1zM547 264h1v1h-1zM562 264h1v1h-1zM610 264h2v1h-2zM675 264h1v1h-1zM730 264h1v1h-1zM103 265h1v1h-1zM342 265h1v1h-1zM547 265h1v1h-1zM608 265h2v1h-2zM674 265h1v1h-1zM730 265h1v1h-1zM103 266h1v1h-1zM342 266h1v1h-1zM547 266h1v1h-1zM673 266h1v1h-1zM730 266h1v1h-1zM103 267h1v1h-1zM342 267h1v1h-1zM547 267h1v1h-1zM673 267h1v1h-1zM730 267h1v1h-1zM103 268h1v1h-1zM342 268h1v1h-1zM547 268h1v1h-1zM672 268h1v1h-1zM730 268h1v1h-1zM103 269h1v1h-1zM342 269h1v1h-1zM547 269h1v1h-1zM671 269h1v1h-1zM730 269h1v1h-1zM103 270h1v1h-1zM342 270h1v1h-1zM547 270h1v1h-1zM671 270h1v1h-1zM730 270h1v1h-1zM103 271h1v1h-1zM342 271h1v1h-1zM547 271h1v1h-1zM670 271h1v1h-1zM730 271h1v1h-1zM103 272h1v1h-1zM342 272h1v1h-1zM547 272h1v1h-1zM730 272h1v1h-1zM103 273h1v1h-1zM342 273h1v1h-1zM547 273h1v1h-1zM730 273h1v1h-1zM103 274h1v1h-1zM342 274h1v1h-1zM547 274h1v1h-1zM730 274h1v1h-1zM103 275h1v1h-1zM342 275h1v1h-1zM547 275h1v1h-1zM730 275h1v1h-1zM103 276h1v1h-1zM342 276h1v1h-1zM547 276h1v1h-1zM730 276h1v1h-1zM103 277h1v1h-1zM342 277h1v1h-1zM547 277h1v1h-1zM730 277h1v1h-1zM103 278h1v1h-1zM342 278h1v1h-1zM547 278h1v1h-1zM730 278h1v1h-1zM103 279h1v1h-1zM342 279h1v1h-1zM547 279h1v1h-1zM730 279h1v1h-1zM103 280h1v1h-1zM342 280h1v1h-1zM547 280h1v1h-1zM730 280h1v1h-1zM103 281h1v1h-1zM342 281h1v1h-1zM547 281h1v1h-1zM730 281h1v1h-1zM103 282h1v1h-1zM342 282h1v1h-1zM547 282h1v1h-1zM730 282h1v1h-1zM103 283h1v1h-1zM342 283h1v1h-1zM547 283h1v1h-1zM730 283h1v1h-1zM103 284h1v1h-1zM342 284h1v1h-1zM547 284h1v1h-1zM730 284h1v1h-1zM103 285h1v1h-1zM342 285h1v1h-1zM547 285h1v1h-1zM730 285h1v1h-1zM103 286h1v1h-1zM342 286h1v1h-1zM547 286h1v1h-1zM730 286h1v1h-1zM103 287h1v1h-1zM342 287h1v1h-1zM547 287h1v1h-1zM730 287h1v1h-1zM103 288h1v1h-1zM342 288h1v1h-1zM547 288h1v1h-1zM730 288h1v1h-1zM103 289h1v1h-1zM342 289h1v1h-1zM547 289h1v1h-1zM730 289h1v1h-1zM103 290h1v1h-1zM342 290h1v1h-1zM547 290h1v1h-1zM730 290h1v1h-1zM103 291h1v1h-1zM342 291h1v1h-1zM547 291h1v1h-1zM730 291h1v1h-1zM103 292h1v1h-1zM342 292h1v1h-1zM547 292h1v1h-1zM730 292h1v1h-1zM103 293h1v1h-1zM342 293h1v1h-1zM547 293h1v1h-1zM730 293h1v1h-1zM103 294h1v1h-1zM342 294h1v1h-1zM547 294h1v1h-1zM730 294h1v1h-1zM103 295h1v1h-1zM342 295h1v1h-1zM547 295h1v1h-1zM730 295h1v1h-1zM103 296h1v1h-1zM342 296h1v1h-1zM547 296h1v1h-1zM730 296h1v1h-1zM103 297h1v1h-1zM342 297h1v1h-1zM547 297h1v1h-1zM730 297h1v1h-1zM103 298h1v1h-1zM342 298h1v1h-1zM547 298h184v1h-184zM103 299h1v1h-1zM342 299h1v1h-1zM103 300h1v1h-1zM342 300h1v1h-1zM103 301h1v1h-1zM342 301h1v1h-1zM103 302h1v1h-1zM342 302h1v1h-1zM103 303h1v1h-1zM342 303h1v1h-1zM103 304h1v1h-1zM342 304h1v1h-1zM103 305h1v1h-1zM342 305h1v1h-1zM621 305h1v1h-1zM103 306h1v1h-1zM342 306h1v1h-1zM621 306h1v1h-1zM651 306h1v1h-1zM103 307h240v1h-240zM621 307h1v1h-1zM651 307h1v1h-1zM621 308h1v1h-1zM651 308h1v1h-1zM621 309h1v1h-1zM651 309h1v1h-1zM621 310h1v1h-1zM651 310h1v1h-1zM621 311h1v1h-1zM651 311h1v1h-1zM621 312h1v1h-1zM651 312h1v1h-1zM621 313h1v1h-1zM651 313h1v1h-1zM621 314h1v1h-1zM651 314h1v1h-1zM621 315h1v1h-1zM651 315h1v1h-1zM621 316h1v1h-1zM651 316h1v1h-1zM621 317h1v1h-1zM651 317h1v1h-1zM621 318h1v1h-1zM651 318h1v1h-1zM621 319h1v1h-1zM651 319h1v1h-1zM621 320h1v1h-1zM651 320h1v1h-1zM621 321h1v1h-1zM651 321h1v1h-1zM621 322h1v1h-1zM651 322h1v1h-1zM621 323h1v1h-1zM651 323h1v1h-1zM621 324h1v1h-1zM651 324h1v1h-1zM621 325h1v1h-1zM651 325h1v1h-1zM621 326h1v1h-1zM651 326h1v1h-1zM621 327h1v1h-1zM651 327h1v1h-1zM621 328h1v1h-1zM651 328h1v1h-1zM621 329h1v1h-1zM651 329h1v1h-1zM621 330h1v1h-1zM651 330h1v1h-1zM621 331h1v1h-1zM651 331h1v1h-1zM621 332h1v1h-1zM651 332h1v1h-1zM621 333h1v1h-1zM651 333h1v1h-1zM621 334h1v1h-1zM651 334h1v1h-1zM621 335h1v1h-1zM651 335h1v1h-1zM621 336h1v1h-1zM651 336h1v1h-1zM621 337h1v1h-1zM651 337h1v1h-1zM621 338h1v1h-1zM651 338h1v1h-1zM621 339h1v1h-1zM651 339h1v1h-1zM621 340h1v1h-1zM651 340h1v1h-1zM621 341h1v1h-1zM651 341h1v1h-1zM621 342h1v1h-1zM651 342h1v1h-1zM621 343h1v1h-1zM651 343h1v1h-1zM621 344h1v1h-1zM651 344h1v1h-1zM621 345h1v1h-1zM651 345h1v1h-1zM621 346h1v1h-1zM651 346h1v1h-1zM621 347h1v1h-1zM651 347h1v1h-1zM621 348h1v1h-1zM651 348h1v1h-1zM621 349h1v1h-1zM651 349h1v1h-1zM621 350h1v1h-1zM651 350h1v1h-1zM621 351h1v1h-1zM651 351h1v1h-1zM621 352h1v1h-1zM651 352h1v1h-1zM621 353h1v1h-1zM651 353h1v1h-1zM621 354h1v1h-1zM651 354h1v1h-1zM310 355h2v1h-2zM621 355h1v1h-1zM651 355h1v1h-1zM305 356h1v1h-1zM312 356h4v1h-4zM621 356h1v1h-1zM651 356h1v1h-1zM305 357h1v1h-1zM316 357h4v1h-4zM621 357h1v1h-1zM651 357h1v1h-1zM305 358h1v1h-1zM320 358h4v1h-4zM621 358h1v1h-1zM651 358h1v1h-1zM306 359h1v1h-1zM324 359h4v1h-4zM621 359h1v1h-1zM651 359h1v1h-1zM306 360h1v1h-1zM325 360h1v1h-1zM328 360h3v1h-3zM621 360h1v1h-1zM651 360h1v1h-1zM306 361h1v1h-1zM326 361h2v1h-2zM331 361h4v1h-4zM621 361h1v1h-1zM650 361h1v1h-1zM306 362h1v1h-1zM328 362h1v1h-1zM335 362h4v1h-4zM621 362h1v1h-1zM650 362h1v1h-1zM307 363h1v1h-1zM329 363h1v1h-1zM339 363h4v1h-4zM621 363h1v1h-1zM650 363h1v1h-1zM307 364h1v1h-1zM330 364h1v1h-1zM343 364h4v1h-4zM621 364h1v1h-1zM650 364h1v1h-1zM307 365h1v1h-1zM331 365h1v1h-1zM347 365h3v1h-3zM621 365h1v1h-1zM650 365h1v1h-1zM307 366h1v1h-1zM332 366h2v1h-2zM350 366h4v1h-4zM621 366h1v1h-1zM650 366h1v1h-1zM308 367h1v1h-1zM334 367h1v1h-1zM354 367h4v1h-4zM621 367h1v1h-1zM650 367h1v1h-1zM308 368h1v1h-1zM335 368h1v1h-1zM358 368h4v1h-4zM621 368h1v1h-1zM650 368h1v1h-1zM302 369h1v1h-1zM308 369h1v1h-1zM336 369h1v1h-1zM362 369h4v1h-4zM621 369h1v1h-1zM650 369h1v1h-1zM303 370h1v1h-1zM308 370h1v1h-1zM337 370h2v1h-2zM366 370h2v1h-2zM621 370h1v1h-1zM650 370h1v1h-1zM304 371h2v1h-2zM309 371h1v1h-1zM339 371h1v1h-1zM621 371h1v1h-1zM650 371h1v1h-1zM306 372h1v1h-1zM309 372h1v1h-1zM340 372h1v1h-1zM621 372h1v1h-1zM650 372h1v1h-1zM307 373h1v1h-1zM309 373h1v1h-1zM341 373h1v1h-1zM621 373h1v1h-1zM650 373h1v1h-1zM308 374h2v1h-2zM342 374h1v1h-1zM621 374h1v1h-1zM650 374h1v1h-1zM309 375h2v1h-2zM343 375h2v1h-2zM621 375h1v1h-1zM650 375h1v1h-1zM310 376h2v1h-2zM345 376h1v1h-1zM621 376h1v1h-1zM650 376h1v1h-1zM310 377h1v1h-1zM312 377h1v1h-1zM346 377h1v1h-1zM621 377h1v1h-1zM650 377h1v1h-1zM310 378h1v1h-1zM313 378h2v1h-2zM347 378h1v1h-1zM621 378h1v1h-1zM650 378h1v1h-1zM310 379h1v1h-1zM315 379h1v1h-1zM348 379h2v1h-2zM621 379h1v1h-1zM650 379h1v1h-1zM311 380h1v1h-1zM316 380h1v1h-1zM350 380h1v1h-1zM621 380h1v1h-1zM650 380h1v1h-1zM696 380h1v1h-1zM311 381h1v1h-1zM317 381h1v1h-1zM351 381h1v1h-1zM553 381h1v1h-1zM621 381h1v1h-1zM650 381h1v1h-1zM695 381h1v1h-1zM311 382h1v1h-1zM318 382h2v1h-2zM352 382h1v1h-1zM554 382h1v1h-1zM621 382h1v1h-1zM650 382h1v1h-1zM694 382h1v1h-1zM311 383h1v1h-1zM320 383h1v1h-1zM353 383h1v1h-1zM555 383h2v1h-2zM621 383h1v1h-1zM650 383h1v1h-1zM693 383h1v1h-1zM312 384h1v1h-1zM321 384h1v1h-1zM354 384h2v1h-2zM557 384h1v1h-1zM621 384h1v1h-1zM650 384h1v1h-1zM692 384h1v1h-1zM312 385h1v1h-1zM322 385h1v1h-1zM356 385h1v1h-1zM558 385h1v1h-1zM621 385h1v1h-1zM650 385h1v1h-1zM691 385h1v1h-1zM312 386h1v1h-1zM323 386h2v1h-2zM357 386h1v1h-1zM559 386h1v1h-1zM621 386h1v1h-1zM650 386h1v1h-1zM690 386h1v1h-1zM312 387h1v1h-1zM325 387h1v1h-1zM358 387h1v1h-1zM560 387h2v1h-2zM621 387h1v1h-1zM650 387h1v1h-1zM689 387h1v1h-1zM312 388h1v1h-1zM326 388h1v1h-1zM359 388h2v1h-2zM562 388h1v1h-1zM621 388h1v1h-1zM650 388h1v1h-1zM688 388h1v1h-1zM313 389h1v1h-1zM327 389h2v1h-2zM361 389h1v1h-1zM563 389h1v1h-1zM621 389h1v1h-1zM650 389h1v1h-1zM688 389h1v1h-1zM313 390h1v1h-1zM329 390h1v1h-1zM362 390h1v1h-1zM564 390h1v1h-1zM621 390h1v1h-1zM650 390h1v1h-1zM687 390h1v1h-1zM313 391h1v1h-1zM330 391h1v1h-1zM363 391h1v1h-1zM565 391h1v1h-1zM621 391h1v1h-1zM650 391h1v1h-1zM686 391h1v1h-1zM313 392h1v1h-1zM331 392h1v1h-1zM364 392h1v1h-1zM566 392h2v1h-2zM621 392h1v1h-1zM650 392h1v1h-1zM685 392h1v1h-1zM314 393h1v1h-1zM332 393h2v1h-2zM365 393h2v1h-2zM568 393h1v1h-1zM621 393h1v1h-1zM650 393h1v1h-1zM684 393h1v1h-1zM314 394h1v1h-1zM334 394h1v1h-1zM367 394h1v1h-1zM569 394h1v1h-1zM621 394h1v1h-1zM650 394h1v1h-1zM683 394h1v1h-1zM314 395h1v1h-1zM335 395h1v1h-1zM368 395h1v1h-1zM570 395h1v1h-1zM621 395h1v1h-1zM650 395h1v1h-1zM682 395h1v1h-1zM314 396h1v1h-1zM336 396h1v1h-1zM369 396h1v1h-1zM571 396h2v1h-2zM621 396h1v1h-1zM650 396h1v1h-1zM681 396h1v1h-1zM315 397h1v1h-1zM337 397h2v1h-2zM370 397h2v1h-2zM573 397h1v1h-1zM621 397h1v1h-1zM650 397h1v1h-1zM680 397h1v1h-1zM315 398h1v1h-1zM339 398h1v1h-1zM372 398h1v1h-1zM574 398h1v1h-1zM621 398h1v1h-1zM650 398h1v1h-1zM679 398h1v1h-1zM315 399h1v1h-1zM340 399h1v1h-1zM373 399h1v1h-1zM575 399h1v1h-1zM621 399h1v1h-1zM650 399h1v1h-1zM678 399h1v1h-1zM315 400h1v1h-1zM341 400h1v1h-1zM374 400h1v1h-1zM576 400h2v1h-2zM621 400h1v1h-1zM650 400h1v1h-1zM677 400h1v1h-1zM316 401h1v1h-1zM342 401h2v1h-2zM375 401h1v1h-1zM578 401h1v1h-1zM621 401h1v1h-1zM650 401h1v1h-1zM676 401h1v1h-1zM316 402h1v1h-1zM344 402h1v1h-1zM376 402h2v1h-2zM579 402h1v1h-1zM621 402h1v1h-1zM650 402h1v1h-1zM675 402h1v1h-1zM316 403h1v1h-1zM345 403h1v1h-1zM378 403h1v1h-1zM580 403h1v1h-1zM621 403h1v1h-1zM650 403h1v1h-1zM674 403h1v1h-1zM316 404h1v1h-1zM346 404h2v1h-2zM379 404h1v1h-1zM581 404h2v1h-2zM621 404h1v1h-1zM650 404h1v1h-1zM673 404h1v1h-1zM316 405h1v1h-1zM348 405h1v1h-1zM380 405h1v1h-1zM583 405h1v1h-1zM621 405h1v1h-1zM650 405h1v1h-1zM673 405h1v1h-1zM317 406h1v1h-1zM349 406h1v1h-1zM381 406h2v1h-2zM584 406h1v1h-1zM621 406h1v1h-1zM650 406h1v1h-1zM672 406h1v1h-1zM317 407h1v1h-1zM350 407h1v1h-1zM383 407h1v1h-1zM585 407h1v1h-1zM621 407h1v1h-1zM650 407h1v1h-1zM671 407h1v1h-1zM317 408h1v1h-1zM351 408h2v1h-2zM384 408h1v1h-1zM586 408h1v1h-1zM621 408h1v1h-1zM650 408h1v1h-1zM670 408h1v1h-1zM317 409h1v1h-1zM353 409h1v1h-1zM385 409h1v1h-1zM587 409h2v1h-2zM621 409h1v1h-1zM650 409h1v1h-1zM669 409h1v1h-1zM318 410h1v1h-1zM354 410h1v1h-1zM386 410h1v1h-1zM589 410h1v1h-1zM621 410h1v1h-1zM650 410h1v1h-1zM668 410h1v1h-1zM318 411h1v1h-1zM355 411h1v1h-1zM387 411h2v1h-2zM590 411h1v1h-1zM621 411h1v1h-1zM650 411h1v1h-1zM667 411h1v1h-1zM318 412h1v1h-1zM356 412h2v1h-2zM389 412h1v1h-1zM591 412h1v1h-1zM621 412h1v1h-1zM650 412h1v1h-1zM666 412h1v1h-1zM318 413h1v1h-1zM358 413h1v1h-1zM390 413h1v1h-1zM592 413h2v1h-2zM621 413h1v1h-1zM650 413h1v1h-1zM665 413h1v1h-1zM319 414h1v1h-1zM359 414h1v1h-1zM391 414h1v1h-1zM594 414h1v1h-1zM621 414h1v1h-1zM650 414h1v1h-1zM664 414h1v1h-1zM319 415h1v1h-1zM360 415h1v1h-1zM392 415h2v1h-2zM595 415h1v1h-1zM621 415h1v1h-1zM650 415h1v1h-1zM663 415h1v1h-1zM319 416h1v1h-1zM361 416h2v1h-2zM394 416h1v1h-1zM596 416h1v1h-1zM621 416h1v1h-1zM662 416h1v1h-1zM363 417h1v1h-1zM395 417h1v1h-1zM597 417h2v1h-2zM621 417h1v1h-1zM661 417h1v1h-1zM364 418h1v1h-1zM396 418h1v1h-1zM599 418h1v1h-1zM621 418h1v1h-1zM660 418h1v1h-1zM365 419h2v1h-2zM397 419h1v1h-1zM600 419h1v1h-1zM621 419h1v1h-1zM659 419h1v1h-1zM367 420h1v1h-1zM398 420h2v1h-2zM601 420h1v1h-1zM658 420h1v1h-1zM368 421h1v1h-1zM400 421h1v1h-1zM602 421h1v1h-1zM658 421h1v1h-1zM369 422h1v1h-1zM401 422h1v1h-1zM603 422h2v1h-2zM657 422h1v1h-1zM370 423h2v1h-2zM402 423h1v1h-1zM605 423h1v1h-1zM656 423h1v1h-1zM372 424h1v1h-1zM403 424h2v1h-2zM606 424h1v1h-1zM655 424h1v1h-1zM373 425h1v1h-1zM405 425h1v1h-1zM607 425h1v1h-1zM654 425h1v1h-1zM374 426h1v1h-1zM406 426h1v1h-1zM608 426h2v1h-2zM653 426h1v1h-1zM375 427h2v1h-2zM407 427h1v1h-1zM610 427h1v1h-1zM652 427h1v1h-1zM377 428h1v1h-1zM408 428h1v1h-1zM611 428h1v1h-1zM651 428h1v1h-1zM378 429h1v1h-1zM409 429h2v1h-2zM612 429h1v1h-1zM650 429h1v1h-1zM379 430h2v1h-2zM411 430h1v1h-1zM613 430h2v1h-2zM649 430h1v1h-1zM381 431h1v1h-1zM412 431h1v1h-1zM615 431h1v1h-1zM648 431h1v1h-1zM382 432h1v1h-1zM413 432h1v1h-1zM616 432h1v1h-1zM647 432h1v1h-1zM383 433h1v1h-1zM414 433h2v1h-2zM617 433h1v1h-1zM646 433h1v1h-1zM384 434h2v1h-2zM416 434h1v1h-1zM618 434h2v1h-2zM645 434h1v1h-1zM386 435h1v1h-1zM417 435h1v1h-1zM620 435h1v1h-1zM644 435h1v1h-1zM387 436h1v1h-1zM418 436h1v1h-1zM621 436h1v1h-1zM643 436h1v1h-1zM388 437h1v1h-1zM419 437h1v1h-1zM622 437h1v1h-1zM643 437h1v1h-1zM389 438h2v1h-2zM420 438h2v1h-2zM623 438h1v1h-1zM642 438h1v1h-1zM391 439h1v1h-1zM422 439h1v1h-1zM624 439h2v1h-2zM641 439h1v1h-1zM392 440h1v1h-1zM423 440h1v1h-1zM626 440h1v1h-1zM640 440h1v1h-1zM393 441h1v1h-1zM424 441h1v1h-1zM627 441h1v1h-1zM639 441h1v1h-1zM394 442h2v1h-2zM425 442h2v1h-2zM628 442h1v1h-1zM638 442h1v1h-1zM396 443h1v1h-1zM427 443h1v1h-1zM629 443h2v1h-2zM637 443h1v1h-1zM397 444h1v1h-1zM428 444h1v1h-1zM631 444h1v1h-1zM636 444h1v1h-1zM398 445h2v1h-2zM429 445h1v1h-1zM632 445h1v1h-1zM635 445h1v1h-1zM400 446h1v1h-1zM430 446h1v1h-1zM401 447h1v1h-1zM431 447h2v1h-2zM402 448h1v1h-1zM433 448h1v1h-1zM403 449h2v1h-2zM434 449h1v1h-1zM405 450h1v1h-1zM435 450h1v1h-1zM406 451h1v1h-1zM436 451h2v1h-2zM407 452h1v1h-1zM438 452h1v1h-1zM408 453h2v1h-2zM439 453h1v1h-1zM410 454h1v1h-1zM440 454h1v1h-1zM411 455h1v1h-1zM441 455h1v1h-1zM412 456h1v1h-1zM442 456h2v1h-2zM413 457h2v1h-2zM444 457h1v1h-1zM415 458h1v1h-1zM445 458h1v1h-1zM416 459h1v1h-1zM446 459h1v1h-1zM417 460h2v1h-2zM447 460h2v1h-2zM419 461h1v1h-1zM449 461h1v1h-1zM420 462h1v1h-1zM450 462h1v1h-1zM421 463h1v1h-1zM451 463h1v1h-1zM422 464h2v1h-2zM452 464h1v1h-1zM424 465h1v1h-1zM453 465h2v1h-2zM425 466h1v1h-1zM455 466h1v1h-1zM426 467h1v1h-1zM456 467h1v1h-1zM427 468h2v1h-2zM457 468h1v1h-1zM429 469h1v1h-1zM458 469h2v1h-2zM430 470h1v1h-1zM460 470h1v1h-1zM431 471h2v1h-2zM461 471h1v1h-1zM433 472h1v1h-1zM462 472h1v1h-1zM434 473h1v1h-1zM463 473h1v1h-1zM435 474h1v1h-1zM464 474h2v1h-2zM436 475h2v1h-2zM466 475h1v1h-1zM438 476h1v1h-1zM467 476h1v1h-1zM439 477h1v1h-1zM468 477h1v1h-1zM440 478h1v1h-1zM469 478h2v1h-2zM441 479h2v1h-2zM471 479h1v1h-1zM443 480h1v1h-1zM472 480h1v1h-1zM444 481h1v1h-1zM473 481h1v1h-1zM445 482h1v1h-1zM474 482h1v1h-1zM446 483h2v1h-2zM475 483h2v1h-2zM448 484h1v1h-1zM477 484h1v1h-1zM449 485h1v1h-1zM478 485h1v1h-1zM450 486h2v1h-2zM479 486h1v1h-1zM452 487h1v1h-1zM480 487h2v1h-2zM453 488h1v1h-1zM482 488h1v1h-1zM555 488h93v1h-93zM454 489h1v1h-1zM483 489h1v1h-1zM555 489h1v1h-1zM648 489h94v1h-94zM455 490h2v1h-2zM484 490h1v1h-1zM555 490h1v1h-1zM741 490h1v1h-1zM457 491h1v1h-1zM485 491h1v1h-1zM555 491h1v1h-1zM741 491h1v1h-1zM458 492h1v1h-1zM486 492h2v1h-2zM555 492h1v1h-1zM741 492h1v1h-1zM459 493h1v1h-1zM488 493h1v1h-1zM555 493h1v1h-1zM741 493h1v1h-1zM460 494h2v1h-2zM489 494h1v1h-1zM555 494h1v1h-1zM741 494h1v1h-1zM462 495h1v1h-1zM490 495h1v1h-1zM555 495h1v1h-1zM741 495h1v1h-1zM463 496h1v1h-1zM491 496h2v1h-2zM555 496h1v1h-1zM741 496h1v1h-1zM464 497h1v1h-1zM493 497h1v1h-1zM555 497h1v1h-1zM590 497h5v1h-5zM741 497h1v1h-1zM465 498h2v1h-2zM494 498h1v1h-1zM555 498h1v1h-1zM595 498h6v1h-6zM741 498h1v1h-1zM467 499h1v1h-1zM495 499h1v1h-1zM555 499h1v1h-1zM600 499h1v1h-1zM741 499h1v1h-1zM468 500h1v1h-1zM496 500h1v1h-1zM555 500h1v1h-1zM599 500h1v1h-1zM625 500h1v1h-1zM682 500h1v1h-1zM741 500h1v1h-1zM469 501h2v1h-2zM497 501h2v1h-2zM555 501h1v1h-1zM597 501h3v1h-3zM626 501h1v1h-1zM683 501h1v1h-1zM741 501h1v1h-1zM471 502h1v1h-1zM499 502h1v1h-1zM555 502h1v1h-1zM596 502h1v1h-1zM598 502h1v1h-1zM627 502h1v1h-1zM684 502h1v1h-1zM741 502h1v1h-1zM472 503h1v1h-1zM500 503h1v1h-1zM555 503h1v1h-1zM595 503h1v1h-1zM597 503h1v1h-1zM628 503h1v1h-1zM685 503h1v1h-1zM741 503h1v1h-1zM473 504h1v1h-1zM501 504h1v1h-1zM555 504h1v1h-1zM594 504h1v1h-1zM597 504h1v1h-1zM629 504h1v1h-1zM686 504h1v1h-1zM741 504h1v1h-1zM474 505h2v1h-2zM502 505h2v1h-2zM555 505h1v1h-1zM593 505h1v1h-1zM596 505h1v1h-1zM630 505h1v1h-1zM687 505h1v1h-1zM741 505h1v1h-1zM476 506h1v1h-1zM504 506h1v1h-1zM555 506h1v1h-1zM591 506h2v1h-2zM595 506h1v1h-1zM631 506h1v1h-1zM687 506h1v1h-1zM741 506h1v1h-1zM477 507h1v1h-1zM505 507h1v1h-1zM555 507h1v1h-1zM590 507h1v1h-1zM595 507h1v1h-1zM632 507h1v1h-1zM688 507h1v1h-1zM741 507h1v1h-1zM478 508h1v1h-1zM506 508h1v1h-1zM555 508h1v1h-1zM589 508h1v1h-1zM594 508h1v1h-1zM633 508h1v1h-1zM689 508h1v1h-1zM699 508h1v1h-1zM741 508h1v1h-1zM479 509h2v1h-2zM507 509h1v1h-1zM555 509h1v1h-1zM588 509h1v1h-1zM634 509h1v1h-1zM690 509h1v1h-1zM699 509h1v1h-1zM741 509h1v1h-1zM481 510h1v1h-1zM508 510h2v1h-2zM555 510h1v1h-1zM587 510h1v1h-1zM635 510h1v1h-1zM691 510h1v1h-1zM700 510h1v1h-1zM741 510h1v1h-1zM482 511h1v1h-1zM510 511h1v1h-1zM555 511h1v1h-1zM585 511h2v1h-2zM636 511h1v1h-1zM692 511h1v1h-1zM700 511h1v1h-1zM741 511h1v1h-1zM483 512h2v1h-2zM511 512h1v1h-1zM555 512h1v1h-1zM584 512h1v1h-1zM637 512h1v1h-1zM693 512h1v1h-1zM700 512h1v1h-1zM741 512h1v1h-1zM485 513h1v1h-1zM512 513h1v1h-1zM555 513h1v1h-1zM583 513h1v1h-1zM638 513h1v1h-1zM643 513h1v1h-1zM694 513h1v1h-1zM700 513h1v1h-1zM741 513h1v1h-1zM486 514h1v1h-1zM513 514h2v1h-2zM555 514h1v1h-1zM582 514h1v1h-1zM639 514h1v1h-1zM644 514h1v1h-1zM695 514h1v1h-1zM701 514h1v1h-1zM741 514h1v1h-1zM487 515h1v1h-1zM515 515h1v1h-1zM555 515h1v1h-1zM580 515h2v1h-2zM640 515h1v1h-1zM644 515h1v1h-1zM696 515h1v1h-1zM701 515h1v1h-1zM741 515h1v1h-1zM488 516h2v1h-2zM516 516h1v1h-1zM555 516h1v1h-1zM579 516h1v1h-1zM641 516h1v1h-1zM645 516h1v1h-1zM696 516h1v1h-1zM701 516h1v1h-1zM741 516h1v1h-1zM490 517h1v1h-1zM517 517h1v1h-1zM555 517h1v1h-1zM578 517h1v1h-1zM642 517h1v1h-1zM645 517h1v1h-1zM697 517h1v1h-1zM701 517h1v1h-1zM741 517h1v1h-1zM491 518h1v1h-1zM518 518h1v1h-1zM555 518h1v1h-1zM577 518h1v1h-1zM643 518h1v1h-1zM646 518h1v1h-1zM698 518h1v1h-1zM702 518h1v1h-1zM741 518h1v1h-1zM492 519h1v1h-1zM519 519h2v1h-2zM555 519h1v1h-1zM576 519h1v1h-1zM644 519h1v1h-1zM646 519h1v1h-1zM699 519h1v1h-1zM702 519h1v1h-1zM741 519h1v1h-1zM493 520h2v1h-2zM521 520h1v1h-1zM555 520h1v1h-1zM574 520h2v1h-2zM645 520h1v1h-1zM647 520h1v1h-1zM700 520h1v1h-1zM702 520h1v1h-1zM741 520h1v1h-1zM495 521h1v1h-1zM522 521h1v1h-1zM555 521h1v1h-1zM573 521h1v1h-1zM647 521h1v1h-1zM741 521h1v1h-1zM496 522h1v1h-1zM523 522h1v1h-1zM555 522h1v1h-1zM572 522h1v1h-1zM648 522h1v1h-1zM671 522h29v1h-29zM741 522h1v1h-1zM497 523h1v1h-1zM524 523h2v1h-2zM555 523h1v1h-1zM571 523h1v1h-1zM629 523h6v1h-6zM648 523h1v1h-1zM741 523h1v1h-1zM498 524h2v1h-2zM526 524h1v1h-1zM555 524h1v1h-1zM570 524h1v1h-1zM635 524h6v1h-6zM649 524h1v1h-1zM741 524h1v1h-1zM500 525h1v1h-1zM527 525h1v1h-1zM555 525h1v1h-1zM568 525h2v1h-2zM649 525h1v1h-1zM741 525h1v1h-1zM501 526h1v1h-1zM528 526h1v1h-1zM555 526h1v1h-1zM567 526h1v1h-1zM650 526h1v1h-1zM741 526h1v1h-1zM502 527h2v1h-2zM529 527h1v1h-1zM555 527h1v1h-1zM566 527h1v1h-1zM741 527h1v1h-1zM504 528h1v1h-1zM530 528h2v1h-2zM555 528h1v1h-1zM741 528h1v1h-1zM505 529h1v1h-1zM532 529h1v1h-1zM555 529h1v1h-1zM741 529h1v1h-1zM506 530h1v1h-1zM533 530h1v1h-1zM555 530h1v1h-1zM741 530h1v1h-1zM507 531h2v1h-2zM534 531h1v1h-1zM555 531h1v1h-1zM741 531h1v1h-1zM509 532h1v1h-1zM535 532h2v1h-2zM555 532h1v1h-1zM741 532h1v1h-1zM510 533h1v1h-1zM537 533h1v1h-1zM555 533h1v1h-1zM741 533h1v1h-1zM511 534h1v1h-1zM538 534h1v1h-1zM555 534h1v1h-1zM741 534h1v1h-1zM512 535h2v1h-2zM539 535h1v1h-1zM555 535h1v1h-1zM741 535h1v1h-1zM514 536h1v1h-1zM540 536h1v1h-1zM555 536h1v1h-1zM741 536h1v1h-1zM515 537h1v1h-1zM541 537h2v1h-2zM555 537h1v1h-1zM741 537h1v1h-1zM516 538h1v1h-1zM543 538h1v1h-1zM555 538h1v1h-1zM741 538h1v1h-1zM517 539h2v1h-2zM544 539h1v1h-1zM555 539h1v1h-1zM741 539h1v1h-1zM519 540h1v1h-1zM555 540h1v1h-1zM741 540h1v1h-1zM520 541h1v1h-1zM555 541h1v1h-1zM741 541h1v1h-1zM521 542h2v1h-2zM555 542h1v1h-1zM741 542h1v1h-1zM523 543h1v1h-1zM555 543h1v1h-1zM711 543h4v1h-4zM718 543h1v1h-1zM741 543h1v1h-1zM524 544h1v1h-1zM555 544h1v1h-1zM703 544h8v1h-8zM717 544h2v1h-2zM741 544h1v1h-1zM525 545h1v1h-1zM555 545h1v1h-1zM662 545h1v1h-1zM696 545h7v1h-7zM717 545h2v1h-2zM741 545h1v1h-1zM526 546h2v1h-2zM555 546h1v1h-1zM662 546h1v1h-1zM688 546h8v1h-8zM716 546h2v1h-2zM741 546h1v1h-1zM528 547h1v1h-1zM555 547h1v1h-1zM646 547h11v1h-11zM661 547h1v1h-1zM681 547h7v1h-7zM715 547h1v1h-1zM717 547h1v1h-1zM741 547h1v1h-1zM529 548h1v1h-1zM555 548h1v1h-1zM635 548h11v1h-11zM661 548h1v1h-1zM673 548h8v1h-8zM714 548h1v1h-1zM717 548h1v1h-1zM741 548h1v1h-1zM530 549h1v1h-1zM555 549h1v1h-1zM660 549h1v1h-1zM666 549h7v1h-7zM714 549h1v1h-1zM717 549h1v1h-1zM741 549h1v1h-1zM531 550h2v1h-2zM555 550h1v1h-1zM570 550h1v1h-1zM658 550h8v1h-8zM713 550h1v1h-1zM716 550h1v1h-1zM741 550h1v1h-1zM533 551h1v1h-1zM555 551h1v1h-1zM571 551h2v1h-2zM654 551h4v1h-4zM660 551h1v1h-1zM712 551h1v1h-1zM716 551h1v1h-1zM741 551h1v1h-1zM534 552h1v1h-1zM555 552h1v1h-1zM573 552h1v1h-1zM656 552h1v1h-1zM659 552h1v1h-1zM712 552h1v1h-1zM716 552h1v1h-1zM741 552h1v1h-1zM535 553h2v1h-2zM555 553h1v1h-1zM574 553h1v1h-1zM655 553h1v1h-1zM659 553h1v1h-1zM711 553h1v1h-1zM716 553h1v1h-1zM741 553h1v1h-1zM537 554h1v1h-1zM555 554h1v1h-1zM575 554h2v1h-2zM654 554h1v1h-1zM658 554h1v1h-1zM710 554h1v1h-1zM716 554h1v1h-1zM741 554h1v1h-1zM538 555h1v1h-1zM555 555h1v1h-1zM577 555h1v1h-1zM653 555h1v1h-1zM658 555h1v1h-1zM710 555h1v1h-1zM715 555h1v1h-1zM741 555h1v1h-1zM539 556h1v1h-1zM555 556h1v1h-1zM578 556h1v1h-1zM652 556h1v1h-1zM658 556h1v1h-1zM709 556h1v1h-1zM715 556h1v1h-1zM741 556h1v1h-1zM540 557h2v1h-2zM555 557h1v1h-1zM579 557h2v1h-2zM651 557h1v1h-1zM657 557h1v1h-1zM708 557h1v1h-1zM715 557h1v1h-1zM741 557h1v1h-1zM542 558h1v1h-1zM555 558h1v1h-1zM581 558h1v1h-1zM650 558h1v1h-1zM657 558h1v1h-1zM707 558h1v1h-1zM715 558h1v1h-1zM741 558h1v1h-1zM543 559h1v1h-1zM555 559h1v1h-1zM582 559h2v1h-2zM649 559h1v1h-1zM656 559h1v1h-1zM707 559h1v1h-1zM714 559h1v1h-1zM741 559h1v1h-1zM555 560h1v1h-1zM584 560h1v1h-1zM648 560h1v1h-1zM656 560h1v1h-1zM706 560h1v1h-1zM714 560h1v1h-1zM741 560h1v1h-1zM555 561h1v1h-1zM585 561h1v1h-1zM647 561h1v1h-1zM705 561h1v1h-1zM714 561h1v1h-1zM741 561h1v1h-1zM555 562h1v1h-1zM586 562h2v1h-2zM605 562h1v1h-1zM646 562h1v1h-1zM705 562h1v1h-1zM714 562h1v1h-1zM741 562h1v1h-1zM555 563h1v1h-1zM588 563h1v1h-1zM605 563h1v1h-1zM645 563h1v1h-1zM704 563h1v1h-1zM713 563h1v1h-1zM741 563h1v1h-1zM555 564h1v1h-1zM589 564h1v1h-1zM606 564h1v1h-1zM644 564h1v1h-1zM703 564h1v1h-1zM713 564h1v1h-1zM741 564h1v1h-1zM555 565h1v1h-1zM590 565h2v1h-2zM606 565h1v1h-1zM643 565h1v1h-1zM702 565h1v1h-1zM713 565h1v1h-1zM741 565h1v1h-1zM555 566h1v1h-1zM592 566h1v1h-1zM607 566h1v1h-1zM642 566h1v1h-1zM702 566h1v1h-1zM741 566h1v1h-1zM555 567h1v1h-1zM593 567h2v1h-2zM607 567h1v1h-1zM641 567h1v1h-1zM701 567h1v1h-1zM741 567h1v1h-1zM556 568h1v1h-1zM595 568h1v1h-1zM608 568h1v1h-1zM640 568h1v1h-1zM700 568h1v1h-1zM741 568h1v1h-1zM556 569h1v1h-1zM596 569h1v1h-1zM608 569h1v1h-1zM639 569h1v1h-1zM700 569h1v1h-1zM741 569h1v1h-1zM556 570h1v1h-1zM597 570h2v1h-2zM609 570h1v1h-1zM638 570h1v1h-1zM699 570h1v1h-1zM741 570h1v1h-1zM556 571h1v1h-1zM599 571h1v1h-1zM609 571h1v1h-1zM637 571h1v1h-1zM698 571h1v1h-1zM741 571h1v1h-1zM556 572h1v1h-1zM600 572h1v1h-1zM610 572h1v1h-1zM636 572h1v1h-1zM698 572h1v1h-1zM741 572h1v1h-1zM556 573h1v1h-1zM601 573h2v1h-2zM610 573h1v1h-1zM635 573h1v1h-1zM697 573h1v1h-1zM741 573h1v1h-1zM556 574h1v1h-1zM603 574h1v1h-1zM610 574h1v1h-1zM634 574h1v1h-1zM696 574h1v1h-1zM741 574h1v1h-1zM556 575h1v1h-1zM604 575h2v1h-2zM611 575h1v1h-1zM633 575h1v1h-1zM695 575h1v1h-1zM741 575h1v1h-1zM556 576h1v1h-1zM606 576h1v1h-1zM611 576h1v1h-1zM632 576h1v1h-1zM695 576h1v1h-1zM741 576h1v1h-1zM556 577h1v1h-1zM607 577h1v1h-1zM612 577h1v1h-1zM694 577h1v1h-1zM741 577h1v1h-1zM556 578h1v1h-1zM608 578h2v1h-2zM612 578h1v1h-1zM614 578h1v1h-1zM741 578h1v1h-1zM556 579h1v1h-1zM610 579h1v1h-1zM613 579h1v1h-1zM741 579h1v1h-1zM556 580h1v1h-1zM610 580h2v1h-2zM613 580h1v1h-1zM741 580h1v1h-1zM556 581h1v1h-1zM608 581h2v1h-2zM612 581h3v1h-3zM741 581h1v1h-1zM556 582h1v1h-1zM606 582h2v1h-2zM614 582h1v1h-1zM741 582h1v1h-1zM556 583h1v1h-1zM604 583h2v1h-2zM741 583h1v1h-1zM556 584h1v1h-1zM603 584h1v1h-1zM741 584h1v1h-1zM556 585h1v1h-1zM741 585h1v1h-1zM556 586h1v1h-1zM741 586h1v1h-1zM556 587h1v1h-1zM741 587h1v1h-1zM556 588h1v1h-1zM741 588h1v1h-1zM556 589h1v1h-1zM741 589h1v1h-1zM556 590h1v1h-1zM741 590h1v1h-1zM556 591h1v1h-1zM741 591h1v1h-1zM556 592h1v1h-1zM741 592h1v1h-1zM556 593h1v1h-1zM741 593h1v1h-1zM556 594h1v1h-1zM741 594h1v1h-1zM556 595h1v1h-1zM741 595h1v1h-1zM556 596h1v1h-1zM741 596h1v1h-1zM556 597h1v1h-1zM741 597h1v1h-1zM556 598h1v1h-1zM741 598h1v1h-1zM556 599h1v1h-1zM741 599h1v1h-1zM556 600h1v1h-1zM741 600h1v1h-1zM556 601h1v1h-1zM741 601h1v1h-1zM556 602h1v1h-1zM741 602h1v1h-1zM556 603h1v1h-1zM741 603h1v1h-1zM556 604h1v1h-1zM741 604h1v1h-1zM556 605h1v1h-1zM741 605h1v1h-1zM556 606h1v1h-1zM741 606h1v1h-1zM556 607h1v1h-1zM741 607h1v1h-1zM556 608h1v1h-1zM741 608h1v1h-1zM556 609h1v1h-1zM741 609h1v1h-1zM556 610h1v1h-1zM741 610h1v1h-1zM556 611h1v1h-1zM741 611h1v1h-1zM556 612h1v1h-1zM741 612h1v1h-1zM556 613h1v1h-1zM741 613h1v1h-1zM556 614h1v1h-1zM741 614h1v1h-1zM556 615h1v1h-1zM741 615h1v1h-1zM556 616h1v1h-1zM741 616h1v1h-1zM556 617h1v1h-1zM741 617h1v1h-1zM556 618h1v1h-1zM741 618h1v1h-1zM556 619h1v1h-1zM741 619h1v1h-1zM556 620h1v1h-1zM741 620h1v1h-1zM556 621h1v1h-1zM741 621h1v1h-1zM556 622h1v1h-1zM741 622h1v1h-1zM556 623h1v1h-1zM741 623h1v1h-1zM556 624h1v1h-1zM741 624h1v1h-1zM556 625h1v1h-1zM741 625h1v1h-1zM556 626h1v1h-1zM741 626h1v1h-1zM556 627h1v1h-1zM741 627h1v1h-1zM556 628h1v1h-1zM741 628h1v1h-1zM556 629h1v1h-1zM741 629h1v1h-1zM556 630h1v1h-1zM741 630h1v1h-1zM556 631h1v1h-1zM741 631h1v1h-1zM556 632h1v1h-1zM741 632h1v1h-1zM556 633h1v1h-1zM741 633h1v1h-1zM556 634h1v1h-1zM741 634h1v1h-1zM556 635h1v1h-1zM741 635h1v1h-1zM556 636h1v1h-1zM741 636h1v1h-1zM556 637h1v1h-1zM741 637h1v1h-1zM556 638h1v1h-1zM741 638h1v1h-1zM556 639h1v1h-1zM741 639h1v1h-1zM556 640h1v1h-1zM741 640h1v1h-1zM556 641h1v1h-1zM741 641h1v1h-1zM556 642h1v1h-1zM741 642h1v1h-1zM556 643h1v1h-1zM741 643h1v1h-1zM556 644h1v1h-1zM741 644h1v1h-1zM556 645h1v1h-1zM741 645h1v1h-1zM556 646h186v1h-186z"/>
</g>
<path fill="#000" shape-rendering="crispEdges" d="M200 33h2v1h-2zM199 34h3v1h-3zM198 35h4v1h-4zM197 36h5v1h-5zM195 37h7v1h-7zM194 38h4v1h-4zM199 38h3v1h-3zM193 39h4v1h-4zM199 39h3v1h-3zM193 40h2v1h-2zM199 40h3v1h-3zM199 41h3v1h-3zM199 42h3v1h-3zM199 43h3v1h-3zM199 44h3v1h-3zM199 45h3v1h-3zM199 46h3v1h-3zM199 47h3v1h-3zM199 48h3v1h-3zM199 49h3v1h-3zM199 50h3v1h-3zM199 51h3v1h-3zM199 52h3v1h-3zM199 53h3v1h-3zM199 54h3v1h-3zM199 55h3v1h-3zM585 32h7v1h-7zM583 33h11v1h-11zM582 34h13v1h-13zM582 35h4v1h-4zM591 35h4v1h-4zM581 36h3v1h-3zM592 36h4v1h-4zM581 37h3v1h-3zM593 37h3v1h-3zM593 38h3v1h-3zM593 39h3v1h-3zM593 40h3v1h-3zM592 41h3v1h-3zM592 42h3v1h-3zM591 43h3v1h-3zM590 44h3v1h-3zM589 45h3v1h-3zM588 46h3v1h-3zM586 47h4v1h-4zM585 48h4v1h-4zM584 49h3v1h-3zM583 50h3v1h-3zM582 51h3v1h-3zM582 52h14v1h-14zM581 53h15v1h-15zM581 54h15v1h-15zM735 432h6v1h-6zM733 433h10v1h-10zM732 434h12v1h-12zM731 435h4v1h-4zM740 435h4v1h-4zM730 436h4v1h-4zM742 436h3v1h-3zM730 437h3v1h-3zM742 437h3v1h-3zM742 438h3v1h-3zM741 439h4v1h-4zM740 440h4v1h-4zM736 441h7v1h-7zM736 442h7v1h-7zM736 443h8v1h-8zM741 444h4v1h-4zM742 445h4v1h-4zM743 446h3v1h-3zM743 447h3v1h-3zM743 448h3v1h-3zM730 449h3v1h-3zM743 449h3v1h-3zM730 450h4v1h-4zM742 450h3v1h-3zM731 451h4v1h-4zM741 451h4v1h-4zM732 452h12v1h-12zM733 453h10v1h-10zM735 454h6v1h-6zM209 33h2v1h-2zM210 34h2v1h-2zM211 35h2v1h-2zM211 36h3v1h-3zM212 37h2v1h-2zM212 38h3v1h-3zM213 39h2v1h-2zM213 40h3v1h-3zM213 41h3v1h-3zM213 42h3v1h-3zM214 43h3v1h-3zM214 44h3v1h-3zM214 45h3v1h-3zM214 46h3v1h-3zM214 47h3v1h-3zM214 48h3v1h-3zM214 49h3v1h-3zM214 50h3v1h-3zM214 51h3v1h-3zM213 52h3v1h-3zM213 53h3v1h-3zM213 54h3v1h-3zM212 55h3v1h-3zM212 56h3v1h-3zM212 57h2v1h-2zM211 58h3v1h-3zM211 59h2v1h-2zM210 60h2v1h-2zM209 61h2v1h-2zM599 32h2v1h-2zM600 33h2v1h-2zM601 34h2v1h-2zM601 35h3v1h-3zM602 36h2v1h-2zM602 37h3v1h-3zM603 38h2v1h-2zM603 39h3v1h-3zM603 40h3v1h-3zM603 41h3v1h-3zM604 42h3v1h-3zM604 43h3v1h-3zM604 44h3v1h-3zM604 45h3v1h-3zM604 46h3v1h-3zM604 47h3v1h-3zM604 48h3v1h-3zM604 49h3v1h-3zM604 50h3v1h-3zM603 51h3v1h-3zM603 52h3v1h-3zM603 53h3v1h-3zM602 54h3v1h-3zM602 55h3v1h-3zM602 56h2v1h-2zM601 57h3v1h-3zM601 58h2v1h-2zM600 59h2v1h-2zM599 60h2v1h-2zM748 432h2v1h-2zM749 433h2v1h-2zM750 434h2v1h-2zM750 435h3v1h-3zM751 436h2v1h-2zM751 437h3v1h-3zM752 438h2v1h-2zM752 439h3v1h-3zM752 440h3v1h-3zM752 441h3v1h-3zM753 442h3v1h-3zM753 443h3v1h-3zM753 444h3v1h-3zM753 445h3v1h-3zM753 446h3v1h-3zM753 447h3v1h-3zM753 448h3v1h-3zM753 449h3v1h-3zM753 450h3v1h-3zM752 451h3v1h-3zM752 452h3v1h-3zM752 453h3v1h-3zM751 454h3v1h-3zM751 455h3v1h-3zM751 456h2v1h-2zM750 457h3v1h-3zM750 458h2v1h-2zM749 459h2v1h-2zM748 460h2v1h-2z"/>
</svg>
</body></html>
